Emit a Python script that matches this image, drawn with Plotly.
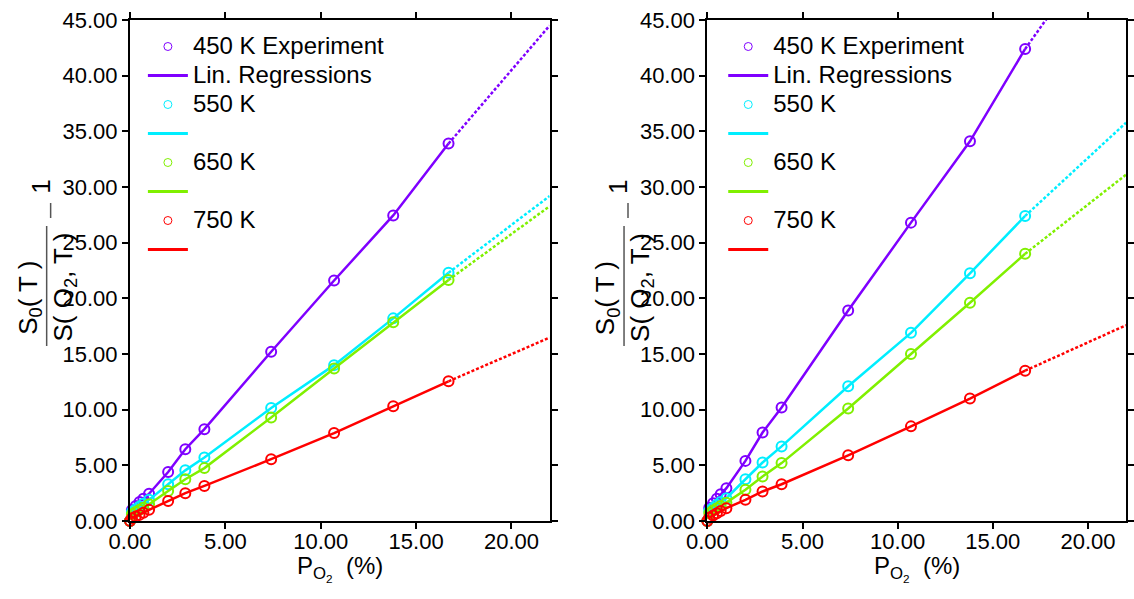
import plotly.graph_objects as go

# ---------------- data ----------------
po2 = [0, 0.1, 0.3, 0.5, 0.7, 1.0, 2.0, 2.9, 3.9, 7.4, 10.7, 13.8, 16.7]
x_end = 22.0

temps = ["450 K", "550 K", "650 K", "750 K"]
colors = ["#7F00FF", "#00EEFF", "#80F000", "#FF0000"]

# left panel
a_450 = [0, 1.0, 1.35, 1.7, 2.0, 2.45, 4.4, 6.45, 8.25, 15.2, 21.6, 27.45, 33.9]
a_550 = [0, 0.8, 1.05, 1.3, 1.55, 1.9, 3.3, 4.55, 5.7, 10.15, 14.0, 18.2, 22.3]
a_650 = [0, 0.6, 0.8, 1.0, 1.2, 1.5, 2.7, 3.75, 4.75, 9.3, 13.7, 17.85, 21.65]
a_750 = [0, 0.25, 0.4, 0.55, 0.75, 1.0, 1.8, 2.5, 3.15, 5.55, 7.9, 10.3, 12.55]
a_slope = [2.0, 1.30, 1.25, 0.74]

# right panel
b_450 = [0, 1.2, 1.6, 2.0, 2.4, 2.95, 5.4, 7.95, 10.2, 18.9, 26.8, 34.1, 42.4]
b_550 = [0, 0.9, 1.2, 1.45, 1.7, 2.05, 3.75, 5.25, 6.7, 12.1, 16.9, 22.25, 27.4]
b_650 = [0, 0.7, 0.95, 1.15, 1.35, 1.65, 2.8, 4.0, 5.2, 10.1, 15.0, 19.6, 24.0]
b_750 = [0, 0.3, 0.5, 0.7, 0.9, 1.15, 1.9, 2.65, 3.3, 5.9, 8.5, 11.0, 13.5]
b_slope = [2.4, 1.58, 1.34, 0.77]

ytick_vals = [0, 5, 10, 15, 20, 25, 30, 35, 40, 45]
xtick_vals = [0, 5, 10, 15, 20]

# ---------------- layout geometry (page pixels) ----------------
W, H = 1134, 599
ML, MT = 130, 20
MB = H - 521
MR = 0
PW, PH = W - ML - MR, H - MT - MB


def px(x):
    return (x - ML) / PW


def py(y):
    return (H - MB - y) / PH


FONT = "Liberation Sans, Arial, sans-serif"
fig = go.Figure()

panels = [
    ("x", "y", "legend", [a_450, a_550, a_650, a_750], a_slope),
    ("x2", "y2", "legend2", [b_450, b_550, b_650, b_750], b_slope),
]


def big(t):
    return "<span style='font-size:24px'>" + t + "</span>"


for xa, ya, leg, series, slopes in panels:
    for i, (t, c, ys, s) in enumerate(zip(temps, colors, series, slopes)):
        mname = t + " Experiment" if i == 0 else t
        lname = "Lin. Regressions" if i == 0 else " "
        # solid regression line over measured range
        fig.add_trace(go.Scatter(
            x=po2[1:], y=ys[1:], mode="lines", xaxis=xa, yaxis=ya,
            line=dict(color=c, width=2.5), showlegend=False, legend=leg,
            hoverinfo="skip"))
        # dotted extrapolation
        fig.add_trace(go.Scatter(
            x=[po2[-1], x_end], y=[ys[-1], ys[-1] + s * (x_end - po2[-1])],
            mode="lines", xaxis=xa, yaxis=ya,
            line=dict(color=c, width=2.5, dash="3px,2px"), showlegend=False,
            legend=leg, hoverinfo="skip"))
        # markers
        fig.add_trace(go.Scatter(
            x=po2, y=ys, mode="markers", xaxis=xa, yaxis=ya,
            marker=dict(symbol="circle-open", size=10, color=c,
                        line=dict(width=2, color=c)),
            cliponaxis=False, showlegend=False, legend=leg))
        # legend entries
        fig.add_trace(go.Scatter(
            x=[None], y=[None], mode="markers", name=big(mname), xaxis=xa, yaxis=ya,
            marker=dict(symbol="circle-open", size=8, color=c,
                        line=dict(width=1, color=c)),
            legend=leg, legendrank=2 * i + 1))
        fig.add_trace(go.Scatter(
            x=[None], y=[None], mode="lines", name=big(lname), xaxis=xa, yaxis=ya,
            line=dict(color=c, width=3), legend=leg, legendrank=2 * i + 2))

axis_common = dict(
    showgrid=False, zeroline=False, showline=True, linecolor="black",
    linewidth=2, mirror="ticks", ticks="outside", ticklen=6, tickwidth=2,
    tickcolor="black", tickformat=".2f",
    tickfont=dict(family=FONT, size=22, color="black"),
)

left_dom = [0, px(553)]
right_dom = [px(712), 1]

legend_common = dict(xanchor="left", yanchor="top", bgcolor="rgba(0,0,0,0)",
                     borderwidth=0, tracegroupgap=0, itemwidth=40,
                     font=dict(family=FONT, size=20, color="black"),
                     traceorder="normal")

fig.update_layout(
    width=W, height=H,
    margin=dict(l=ML, r=MR, t=MT, b=MB),
    paper_bgcolor="white", plot_bgcolor="white",
    showlegend=True,
    xaxis=dict(domain=left_dom, range=[0, 22], tickvals=xtick_vals, anchor="y",
               ticklabelstandoff=-6, **axis_common),
    yaxis=dict(domain=[0, 1], range=[0, 45], tickvals=ytick_vals, anchor="x", **axis_common),
    xaxis2=dict(domain=right_dom, range=[0, 22], tickvals=xtick_vals, anchor="y2",
                ticklabelstandoff=-6, **axis_common),
    yaxis2=dict(domain=[0, 1], range=[0, 45], tickvals=ytick_vals, anchor="x2", **axis_common),
    legend=dict(x=px(143), y=py(27), **legend_common),
    legend2=dict(x=px(728), y=py(27), **legend_common),
)

# axis titles as annotations
title_font = dict(family=FONT, size=24, color="black")
frac_font = dict(family=FONT, size=26, color="black")
annotations = []
shapes = []
for x0 in (0, 582):
    annotations.append(dict(
        x=px(296 + x0), y=py(550), xref="paper", yref="paper",
        xanchor="left", yanchor="top",
        text="P<sub>O<sub>2</sub></sub>&nbsp; (%)", showarrow=False, font=title_font))
    # y title: fraction rotated
    annotations.append(dict(
        x=px(28 + x0), y=py(298), xref="paper", yref="paper", textangle=-90,
        xanchor="center", yanchor="middle",
        text="S<sub>0</sub>( T )", showarrow=False, font=frac_font))
    annotations.append(dict(
        x=px(63 + x0), y=py(287), xref="paper", yref="paper", textangle=-90,
        xanchor="center", yanchor="middle",
        text="S( O<sub>2</sub>, T )", showarrow=False, font=frac_font))
    annotations.append(dict(
        x=px(40 + x0), y=py(187), xref="paper", yref="paper", textangle=-90,
        xanchor="center", yanchor="middle",
        text="1", showarrow=False, font=frac_font))
    shapes.append(dict(type="line", xref="paper", yref="paper",
                       x0=px(46 + x0), x1=px(46 + x0), y0=py(346), y1=py(226),
                       line=dict(color="#555555", width=1.5)))
    shapes.append(dict(type="line", xref="paper", yref="paper",
                       x0=px(50 + x0), x1=px(50 + x0), y0=py(218), y1=py(203),
                       line=dict(color="#555555", width=1.5)))

fig.update_layout(annotations=annotations, shapes=shapes)

fig.write_html(
    "out.html",
    config={"displayModeBar": False},
    post_script="document.body.style.margin='0px';document.body.style.overflow='hidden';",
)
